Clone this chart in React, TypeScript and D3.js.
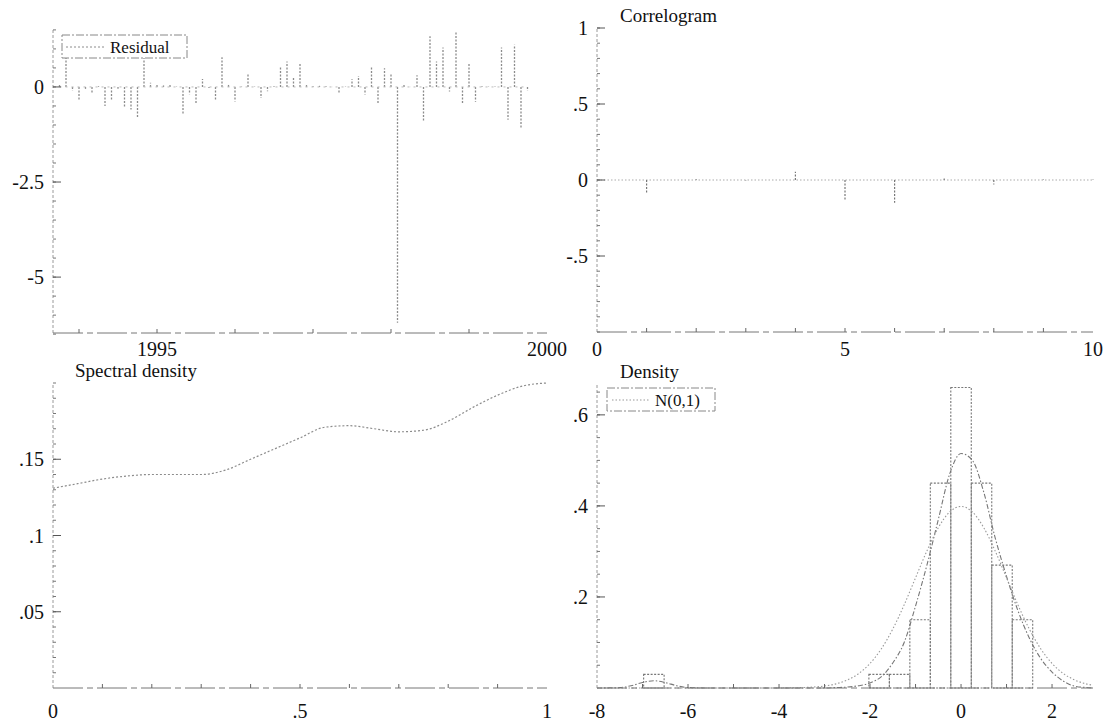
import React, { useRef, useEffect } from "react";
import * as d3 from "d3";

const W = 1109;
const H = 721;
const FONT = "Liberation Serif, DejaVu Serif, serif";

// Residuos mensuales 1993:10 - 1999:10
const residualStart = 1993 + 9 / 12;
const residuals = [
  0.05, 0.8, -0.1, -0.37, -0.05, -0.15, 0.02, -0.5, -0.37, -0.05, -0.54, -0.59,
  -0.8, 0.9, 0.11, 0.05, 0.04, 0.05, 0.01, -0.72, -0.19, -0.46, 0.21, -0.03,
  -0.33, 0.78, 0.09, -0.38, 0.01, 0.35, 0.01, -0.29, -0.11, 0.02, 0.52, 0.67,
  0.26, 0.63, 0.05, 0.02, 0.03, 0.02, 0.0, -0.16, 0.01, 0.2, 0.29, -0.2,
  0.52, -0.44, 0.49, 0.33, -6.2, 0.06, 0.0, 0.31, -0.9, 1.33, 0.67, 1.04,
  -0.12, 1.46, -0.44, 0.61, -0.39, 0.02, 0.01, 0.01, 1.04, -0.86, 1.11, -1.08,
  -0.1,
];

// Correlograma
const acfLags = [1, 2, 3, 4, 5, 6, 7, 8, 9, 10];
const acfValues = [-0.085, 0.005, -0.003, 0.055, -0.13, -0.15, 0.01, -0.03, 0.004, 0.003];

// Densidad espectral
const spectralFreq = [
  0, 0.05, 0.1, 0.15, 0.2, 0.25, 0.3, 0.35, 0.4, 0.45, 0.5, 0.55, 0.6, 0.65,
  0.7, 0.75, 0.8, 0.85, 0.9, 0.95, 1,
];
const spectralValues = [
  0.131, 0.134, 0.137, 0.139, 0.14, 0.14, 0.14, 0.143, 0.15, 0.157, 0.164,
  0.171, 0.172, 0.17, 0.168, 0.169, 0.175, 0.184, 0.192, 0.198, 0.2,
];

// Histograma (densidad)
const histWidth = 0.45;
const histLeft = [-6.975, -2.025, -1.575, -1.125, -0.675, -0.225, 0.225, 0.675, 1.125];
const histHeights = [0.03, 0.03, 0.03, 0.15, 0.45, 0.66, 0.45, 0.27, 0.15];

// Estimación kernel
const kdeX = [
  -8, -7.5, -7.25, -7, -6.75, -6.5, -6.25, -6, -5.5, -3, -2.75, -2.5, -2.25,
  -2, -1.75, -1.5, -1.25, -1, -0.75, -0.5, -0.25, 0, 0.25, 0.5, 0.75, 1,
  1.25, 1.5, 1.75, 2, 2.25, 2.5, 2.75, 2.9,
];
const kdeY = [
  0, 0.001, 0.005, 0.012, 0.016, 0.012, 0.005, 0.001, 0, 0, 0.001, 0.002,
  0.005, 0.011, 0.025, 0.055, 0.1, 0.18, 0.27, 0.37, 0.47, 0.515, 0.5, 0.43,
  0.33, 0.245, 0.17, 0.11, 0.065, 0.035, 0.015, 0.004, 0.001, 0,
];

// N(0,1)
const normX = [
  -8, -4.5, -4, -3.75, -3.5, -3.25, -3, -2.75, -2.5, -2.25, -2, -1.75, -1.5,
  -1.25, -1, -0.75, -0.5, -0.25, 0, 0.25, 0.5, 0.75, 1, 1.25, 1.5, 1.75, 2,
  2.25, 2.5, 2.75, 2.9,
];
const normY = [
  0, 0, 0.0001, 0.0004, 0.0009, 0.002, 0.0044, 0.0091, 0.0175, 0.0317, 0.054,
  0.0863, 0.1295, 0.1826, 0.242, 0.3011, 0.3521, 0.3867, 0.3989, 0.3867,
  0.3521, 0.3011, 0.242, 0.1826, 0.1295, 0.0863, 0.054, 0.0317, 0.0175,
  0.0091, 0.006,
];

const LINE = "#8c8c8c";

// Etiquetas al estilo del original: "-.5", ".15"
const noZero = (d) => {
  const s = String(Math.round(d * 1000) / 1000);
  return s.replace(/^(-?)0\./, "$1.");
};

const drawYAxis = (g, y, x0, major, minor, fmt) => {
  const [y0, y1] = y.range();
  g.append("line")
    .attr("x1", x0).attr("x2", x0).attr("y1", y0).attr("y2", y1)
    .attr("stroke", "#9a9a9a").attr("stroke-dasharray", "3 2");
  g.selectAll(null).data(minor).enter().append("line")
    .attr("x1", x0).attr("x2", x0 + 3)
    .attr("y1", (d) => y(d)).attr("y2", (d) => y(d))
    .attr("stroke", "#777");
  g.selectAll(null).data(major).enter().append("line")
    .attr("x1", x0).attr("x2", x0 + 8)
    .attr("y1", (d) => y(d)).attr("y2", (d) => y(d))
    .attr("stroke", "#555");
  g.selectAll(null).data(major).enter().append("text")
    .attr("x", x0 - 9).attr("y", (d) => y(d))
    .attr("text-anchor", "end").attr("dominant-baseline", "central")
    .attr("font-family", FONT)
    .style("font-size", "20px")
    .text(fmt);
};

const drawXAxis = (g, x, y0, labelY, major, minor, fmt) => {
  const [x0, x1] = x.range();
  g.append("line")
    .attr("x1", x0).attr("x2", x1).attr("y1", y0).attr("y2", y0)
    .attr("stroke", "#777").attr("stroke-dasharray", "30 4 6 4");
  g.selectAll(null).data(minor).enter().append("line")
    .attr("x1", (d) => x(d)).attr("x2", (d) => x(d))
    .attr("y1", y0).attr("y2", y0 - 4)
    .attr("stroke", "#666");
  g.selectAll(null).data(major).enter().append("text")
    .attr("x", (d) => x(d)).attr("y", labelY)
    .attr("text-anchor", "middle").attr("dominant-baseline", "central")
    .attr("font-family", FONT)
    .style("font-size", "20px")
    .text(fmt);
};

const title = (g, x, y, txt, size = 19) =>
  g.append("text").attr("x", x).attr("y", y).attr("dominant-baseline", "central")
    .attr("font-family", FONT).style("font-size", `${size}px`).text(txt);

const App = () => {
  const ref = useRef(null);

  useEffect(() => {
    const svg = d3.select(ref.current);
    svg.selectChildren().remove();
    const root = svg.append("g").attr("fill", "#111");

    // Residual
    {
      const g = root.append("g");
      const x = d3.scaleLinear().domain([1993 + 8 / 12, 2000]).range([53, 547]);
      const y = d3.scaleLinear().domain([-6.47, 1.55]).range([333, 28]);
      g.selectAll(null).data(residuals).enter().append("line")
        .attr("x1", (_, i) => x(residualStart + i / 12))
        .attr("x2", (_, i) => x(residualStart + i / 12))
        .attr("y1", y(0)).attr("y2", (d) => y(d))
        .attr("stroke", LINE).attr("stroke-width", 1.3)
        .attr("stroke-dasharray", "2 1.5");
      g.append("line")
        .attr("x1", x(residualStart)).attr("x2", x(residualStart + (residuals.length - 1) / 12))
        .attr("y1", y(0)).attr("y2", y(0))
        .attr("stroke", "#bbb").attr("stroke-dasharray", "2 4");
      drawYAxis(g, y, 53, [-5, -2.5, 0], d3.range(-6.5, 1.6, 0.5), (d) => String(d));
      drawXAxis(g, x, 333, 349, [1995, 2000], d3.range(1994, 2000, 1), (d) => String(d));
      // leyenda
      g.append("rect").attr("x", 62).attr("y", 35).attr("width", 125).attr("height", 23)
        .attr("fill", "white").attr("stroke", "#888").attr("stroke-dasharray", "8 2 2 2");
      g.append("line").attr("x1", 66).attr("x2", 104).attr("y1", 47).attr("y2", 47)
        .attr("stroke", LINE).attr("stroke-dasharray", "2 2");
      title(g, 110, 47, "Residual", 17);
    }

    // Correlogram
    {
      const g = root.append("g");
      const x = d3.scaleLinear().domain([0, 10]).range([597, 1093]);
      const y = d3.scaleLinear().domain([-1, 1]).range([332, 28]);
      g.append("line")
        .attr("x1", x(0)).attr("x2", x(10)).attr("y1", y(0)).attr("y2", y(0))
        .attr("stroke", "#aaa").attr("stroke-dasharray", "1.5 2");
      g.selectAll(null).data(acfValues).enter().append("line")
        .attr("x1", (_, i) => x(acfLags[i])).attr("x2", (_, i) => x(acfLags[i]))
        .attr("y1", y(0)).attr("y2", (d) => y(d))
        .attr("stroke", "#777").attr("stroke-width", 1.2).attr("stroke-dasharray", "2 1.5");
      drawYAxis(g, y, 597, [-0.5, 0, 0.5, 1], d3.range(-10, 11, 1).map((d) => d / 10), noZero);
      drawXAxis(g, x, 332, 349, [0, 5, 10], d3.range(1, 10, 1), (d) => String(d));
      title(g, 620, 15, "Correlogram");
    }

    // Spectral density
    {
      const g = root.append("g");
      const x = d3.scaleLinear().domain([0, 1]).range([53, 547]);
      const y = d3.scaleLinear().domain([0, 0.2]).range([688, 383]);
      const line = d3.line()
        .x((_, i) => x(spectralFreq[i])).y((d) => y(d))
        .curve(d3.curveMonotoneX);
      g.append("path").attr("d", line(spectralValues))
        .attr("fill", "none").attr("stroke", LINE).attr("stroke-width", 1.2)
        .attr("stroke-dasharray", "2 2");
      drawYAxis(g, y, 53, [0.05, 0.1, 0.15], d3.range(1, 21, 1).map((d) => d / 100), noZero);
      drawXAxis(g, x, 688, 711, [0, 0.5, 1], d3.range(1, 10, 1).map((d) => d / 10), noZero);
      title(g, 75, 370, "Spectral density");
    }

    // Density
    {
      const g = root.append("g");
      const x = d3.scaleLinear().domain([-8, 2.9]).range([597, 1093]);
      const y = d3.scaleLinear().domain([0, 0.67]).range([688, 383]);
      g.selectAll(null).data(histHeights).enter().append("rect")
        .attr("x", (_, i) => x(histLeft[i]))
        .attr("width", (_, i) => x(histLeft[i] + histWidth) - x(histLeft[i]))
        .attr("y", (d) => y(d)).attr("height", (d) => y(0) - y(d))
        .attr("fill", "none").attr("stroke", "#777").attr("stroke-width", 1.1)
        .attr("stroke-dasharray", "2 1.5");
      const kde = d3.line().x((_, i) => x(kdeX[i])).y((d) => y(d)).curve(d3.curveMonotoneX);
      g.append("path").attr("d", kde(kdeY))
        .attr("fill", "none").attr("stroke", "#777").attr("stroke-width", 1.1)
        .attr("stroke-dasharray", "5 2 1.5 2");
      const norm = d3.line().x((_, i) => x(normX[i])).y((d) => y(d)).curve(d3.curveMonotoneX);
      g.append("path").attr("d", norm(normY))
        .attr("fill", "none").attr("stroke", "#999").attr("stroke-width", 1.1)
        .attr("stroke-dasharray", "1.5 2");
      drawYAxis(g, y, 597, [0.2, 0.4, 0.6], d3.range(1, 14, 1).map((d) => d / 20), noZero);
      drawXAxis(g, x, 688, 711, [-8, -6, -4, -2, 0, 2], d3.range(-7, 3, 1), (d) => String(d));
      title(g, 620, 371, "Density");
      // leyenda
      g.append("rect").attr("x", 607).attr("y", 388).attr("width", 108).attr("height", 23)
        .attr("fill", "white").attr("stroke", "#888").attr("stroke-dasharray", "8 2 2 2");
      g.append("line").attr("x1", 612).attr("x2", 650).attr("y1", 400).attr("y2", 400)
        .attr("stroke", "#999").attr("stroke-dasharray", "1.5 2");
      title(g, 655, 400, "N(0,1)", 17);
    }
  }, []);

  return (
    <svg
      ref={ref}
      width={W}
      height={H}
      style={{ position: "absolute", left: 0, top: 0, background: "white" }}
    />
  );
};

export default App;
